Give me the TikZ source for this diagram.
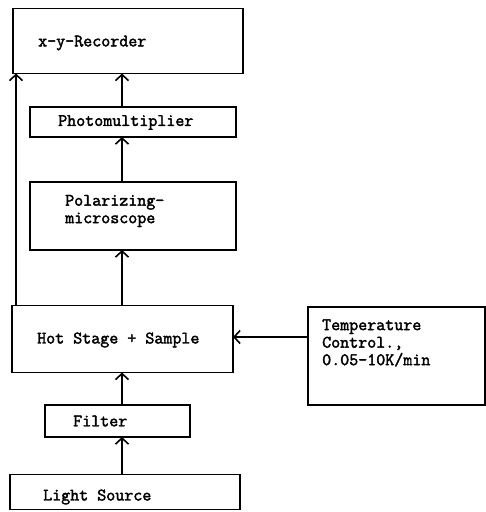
\documentclass[tikz,border=0pt]{standalone}
\usepackage{fontspec}
\setmonofont{Latin Modern Mono}[AutoFakeBold=2.2]
\usetikzlibrary{arrows.meta}
\begin{document}
\begin{tikzpicture}[x=1pt,y=-1pt,
  box/.style={draw, line width=1.6pt, inner sep=0pt, outer sep=0pt},
  lbl/.style={anchor=west, inner sep=0pt, font=\ttfamily\bfseries\fontsize{17.5}{17.5}\selectfont, align=left},
  arr/.style={line width=1.6pt, -{Straight Barb[length=6pt,width=13pt,line width=1.6pt]}}]
\useasboundingbox (0,0) rectangle (486,512);
\node[box, minimum width=230pt, minimum height=65pt] (rec) at (128,41) {};
\node[box, minimum width=206pt, minimum height=30pt] (pm) at (133,122) {};
\node[box, minimum width=206pt, minimum height=68pt] (pol) at (133,216) {};
\node[box, minimum width=221pt, minimum height=67pt] (hot) at (122.5,339) {};
\node[box, minimum width=145pt, minimum height=32pt] (fil) at (117.5,421) {};
\node[box, minimum width=230pt, minimum height=35pt] (ls) at (125,492) {};
\node[box, minimum width=177pt, minimum height=98pt] (tc) at (396.5,356) {};
\node[lbl] (t1) at (38,43) {x-y-Recorder};
\node[lbl] (t2) at (58,122.5) {Photomultiplier};
\node[lbl] (t3) at (65,211) {Polarizing-\\microscope};
\node[lbl] (t4) at (37,340) {Hot Stage + Sample};
\node[lbl] (t5) at (73,421) {Filter};
\node[lbl] (t6) at (43,497) {Light Source};
\node[lbl] (t7) at (322,343) {Temperature\\Control.,\\0.05-10K/min};
\coordinate (cx) at (122,0);
\coordinate (lx) at (16,0);
\coordinate (ty) at (0,337);
\draw[arr] (ls.north -| cx) -- (fil.south -| cx);
\draw[arr] (fil.north -| cx) -- (hot.south -| cx);
\draw[arr] (hot.north -| cx) -- (pol.south -| cx);
\draw[arr] (pol.north -| cx) -- (pm.south -| cx);
\draw[arr] (pm.north -| cx) -- (rec.south -| cx);
\draw[arr] (hot.north -| lx) -- (rec.south -| lx);
\draw[arr] (tc.west |- ty) -- (hot.east |- ty);
\end{tikzpicture}
\end{document}
